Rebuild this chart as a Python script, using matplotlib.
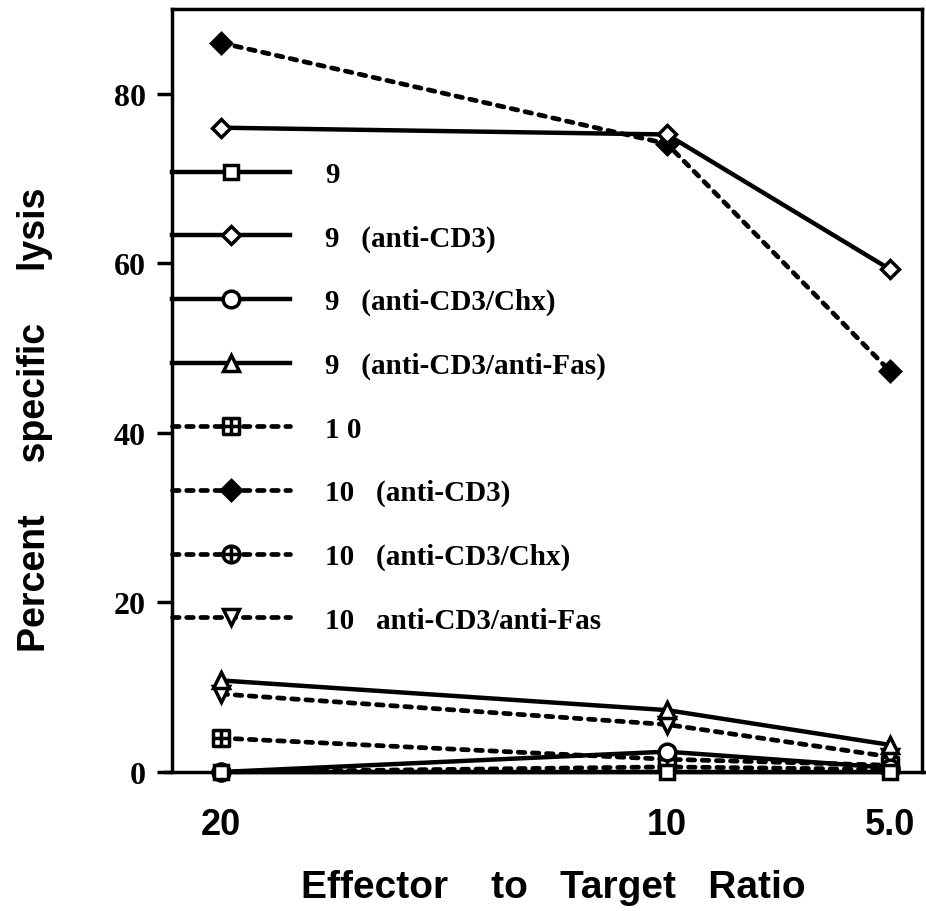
import matplotlib
matplotlib.use("Agg")
import matplotlib.pyplot as plt
from matplotlib.path import Path
import numpy as np

# ---- data ----
ratios = [20, 10, 5]
xtick_labels = ["20", "10", "5.0"]
yticks = [0, 20, 40, 60, 80]

s9 = [0, 0, 0]
s9_cd3 = [76, 75.2, 59.3]
s9_chx = [0, 2.4, 0.5]
s9_fas = [10.8, 7.3, 3.2]
s10 = [4.0, 1.5, 0.8]
s10_cd3 = [86, 74.1, 47.3]
s10_chx = [0, 0.6, 0.3]
s10_fas = [9.2, 5.6, 1.8]

labels = ["9", "9   (anti-CD3)", "9   (anti-CD3/Chx)", "9   (anti-CD3/anti-Fas)",
          "1 0", "10   (anti-CD3)", "10   (anti-CD3/Chx)", "10   anti-CD3/anti-Fas"]

# ---- custom markers ----
sq = Path([(-1, -1), (1, -1), (1, 1), (-1, 1), (-1, -1)],
          [Path.MOVETO, Path.LINETO, Path.LINETO, Path.LINETO, Path.CLOSEPOLY])
cross = Path([(-1, 0), (1, 0), (0, -1), (0, 1)],
             [Path.MOVETO, Path.LINETO, Path.MOVETO, Path.LINETO])
square_plus = Path.make_compound_path(sq, cross)
circle_plus = Path.make_compound_path(Path.unit_circle(), cross)

W, H = 926, 912
fig = plt.figure(figsize=(W / 100, H / 100), dpi=100)
ax = fig.add_axes([172 / W, 1 - 773 / H, (922 - 172) / W, (773 - 10) / H])

solid = dict(color="black", lw=3.2, ls="-", mec="black", mew=2.5, clip_on=False)
dashed = dict(color="black", lw=3.4, ls=(0, (1.4, 1.6)), dash_capstyle="round",
              mec="black", mew=2.5, clip_on=False)

h = [None] * 8
h[6], = ax.plot(ratios, s10_chx, marker=circle_plus, ms=12, mfc="white", label=labels[6], zorder=2, **dashed)
h[4], = ax.plot(ratios, s10, marker=square_plus, ms=11, mfc="white", label=labels[4], zorder=3, **dashed)
h[7], = ax.plot(ratios, s10_fas, marker="v", ms=12, mfc="white", label=labels[7], zorder=3, **dashed)
h[5], = ax.plot(ratios, s10_cd3, marker="D", ms=10, mfc="black", label=labels[5], zorder=3, **dashed)
h[2], = ax.plot(ratios, s9_chx, marker="o", ms=12, mfc="white", label=labels[2], zorder=4, **solid)
h[3], = ax.plot(ratios, s9_fas, marker="^", ms=12, mfc="white", label=labels[3], zorder=4, **solid)
h[1], = ax.plot(ratios, s9_cd3, marker="D", ms=9, mfc="white", label=labels[1], zorder=4, **solid)
h[0], = ax.plot(ratios, s9, marker="s", ms=10, mfc="white", label=labels[0], zorder=5, **solid)

ax.set_xlim(21.1, 4.28)
ax.set_ylim(0, 90)

ax.set_xticks(ratios)
ax.set_xticklabels(xtick_labels, fontfamily="Liberation Sans", fontweight="bold", fontsize=26)
ax.tick_params(axis="x", length=0, pad=25)
ax.set_yticks(yticks)
ax.set_yticklabels([str(v) for v in yticks], fontfamily="Liberation Serif",
                   fontweight="bold", fontsize=23)
ax.tick_params(axis="y", length=11, width=2.5, pad=8, direction="out")

for s in ax.spines.values():
    s.set_linewidth(2.5)
ax.spines["bottom"].set_bounds(21.25, 4.2)

ax.set_xlabel("Effector    to   Target   Ratio", fontfamily="Liberation Sans",
              fontweight="bold", fontsize=28)
ax.xaxis.set_label_coords(0.509, -0.127)
ax.set_ylabel("Percent     specific     lysis", fontfamily="Liberation Sans",
              fontweight="bold", fontsize=27)
ax.yaxis.set_label_coords(-0.159, 0.4626)

leg = ax.legend(handles=h, labels=labels, loc="upper left", bbox_to_anchor=(0, 0.801),
                frameon=False, borderpad=0, borderaxespad=0, handlelength=4.04,
                handletextpad=1.2, labelspacing=1.25,
                prop=dict(family="Liberation Serif", weight="bold", size=21))

fig.savefig("out.png", dpi=100)
